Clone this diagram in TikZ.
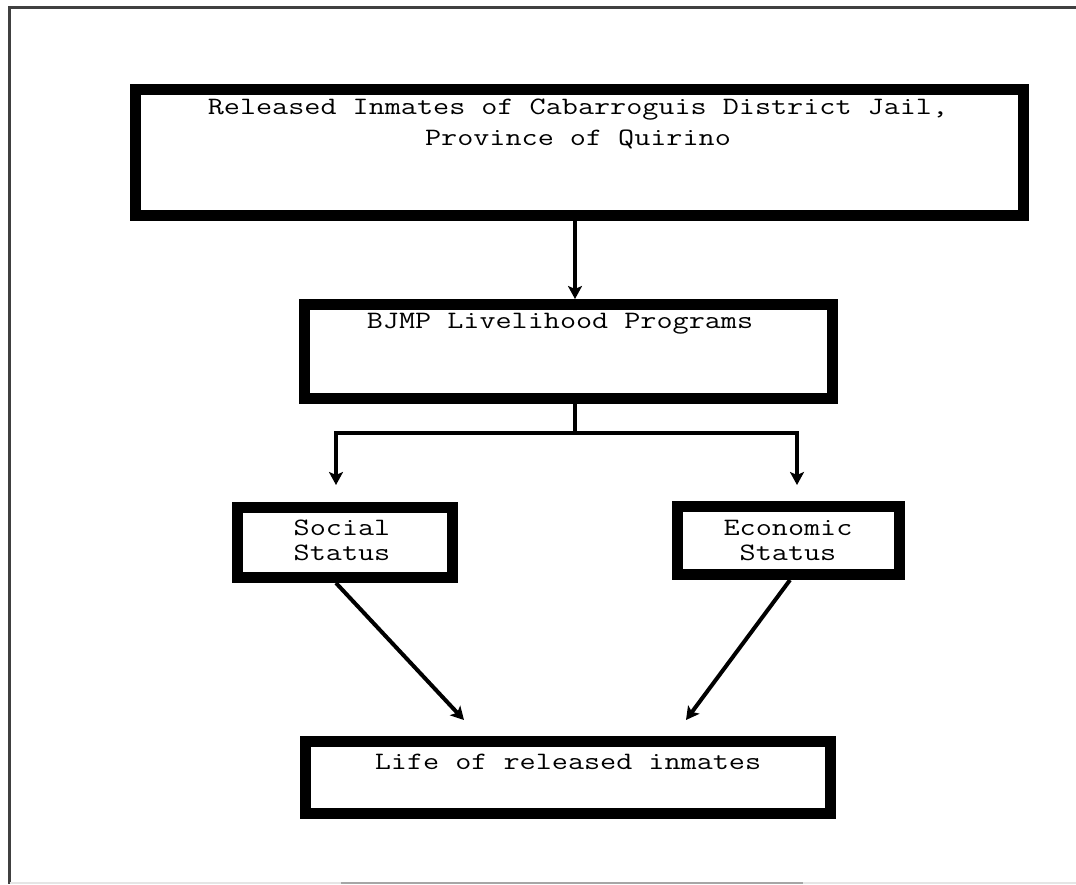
\documentclass[tikz,border=0pt]{standalone}
\usepackage{fontspec}
\usepackage{graphicx}
\usetikzlibrary{arrows.meta}
\newcommand{\sx}[1]{\scalebox{1.25}[1]{#1}}
\tikzset{
  box/.style={draw=black, line width=11pt, rectangle, inner sep=0pt},
  txt/.style={inner sep=0pt, align=center, font=\ttfamily\fontsize{25}{31}\selectfont},
  stxt/.style={inner sep=0pt, align=center, font=\ttfamily\fontsize{25}{25}\selectfont},
  conn/.style={line width=4pt, draw=black},
  arr/.style={conn, -{Stealth[length=13pt,width=14pt,inset=3pt]}},
}
\begin{document}
\begin{tikzpicture}[x=1pt,y=-1pt]
\useasboundingbox (0,0) rectangle (1076,884);
% outer frame
\draw[line width=2.5pt, black!75] (1076,7.5) -- (9.5,7.5) -- (9.5,884);
\draw[line width=2pt, black!10] (9.5,883) -- (1076,883);
\draw[line width=2pt, black!35] (341,883) -- (803,883);
% boxes
\node[box, minimum width=888pt, minimum height=126pt] (top) at (579.5,152.5) {};
\node[box, minimum width=528pt, minimum height=94pt] (bjmp) at (568.5,351.5) {};
\node[box, minimum width=215pt, minimum height=70pt] (social) at (345,542.5) {};
\node[box, minimum width=222pt, minimum height=68pt] (econ) at (788.5,540.5) {};
\node[box, minimum width=525pt, minimum height=72pt] (life) at (568,777.5) {};
% texts
\node[txt] (toptxt) at (578,124) {\sx{Released Inmates of Cabarroguis District Jail,}\\\sx{Province of Quirino}};
\node[txt] (bjmptxt) at (560,324) {\sx{BJMP Livelihood Programs}};
\node[stxt] (socialtxt) at (342,540) {\sx{Social}\\\sx{Status}};
\node[stxt] (econtxt) at (788,541) {\sx{Economic}\\\sx{Status}};
\node[txt] (lifetxt) at (568,762) {\sx{Life of released inmates}};
% connectors
\coordinate (stemx) at (575,0);
\coordinate (jl) at (336,433);
\coordinate (jr) at (797,433);
\coordinate (sdx) at (336,0);
\coordinate (edx) at (790,0);
\coordinate (lifeL) at (464,720);
\coordinate (lifeR) at (686,720);
\draw[arr] (top.south -| stemx) -- (bjmp.north -| stemx);
\draw[conn] (bjmp.south -| stemx) -- (stemx |- jl);
\draw[arr, line cap=rect, shorten >=17pt] (jr) -- (jl) -- (jl |- social.north);
\draw[arr, shorten >=16pt] (jr) -- (jr |- econ.north);
\draw[arr] (social.south -| sdx) -- (lifeL);
\draw[arr] (econ.south -| edx) -- (lifeR);
\end{tikzpicture}
\end{document}
